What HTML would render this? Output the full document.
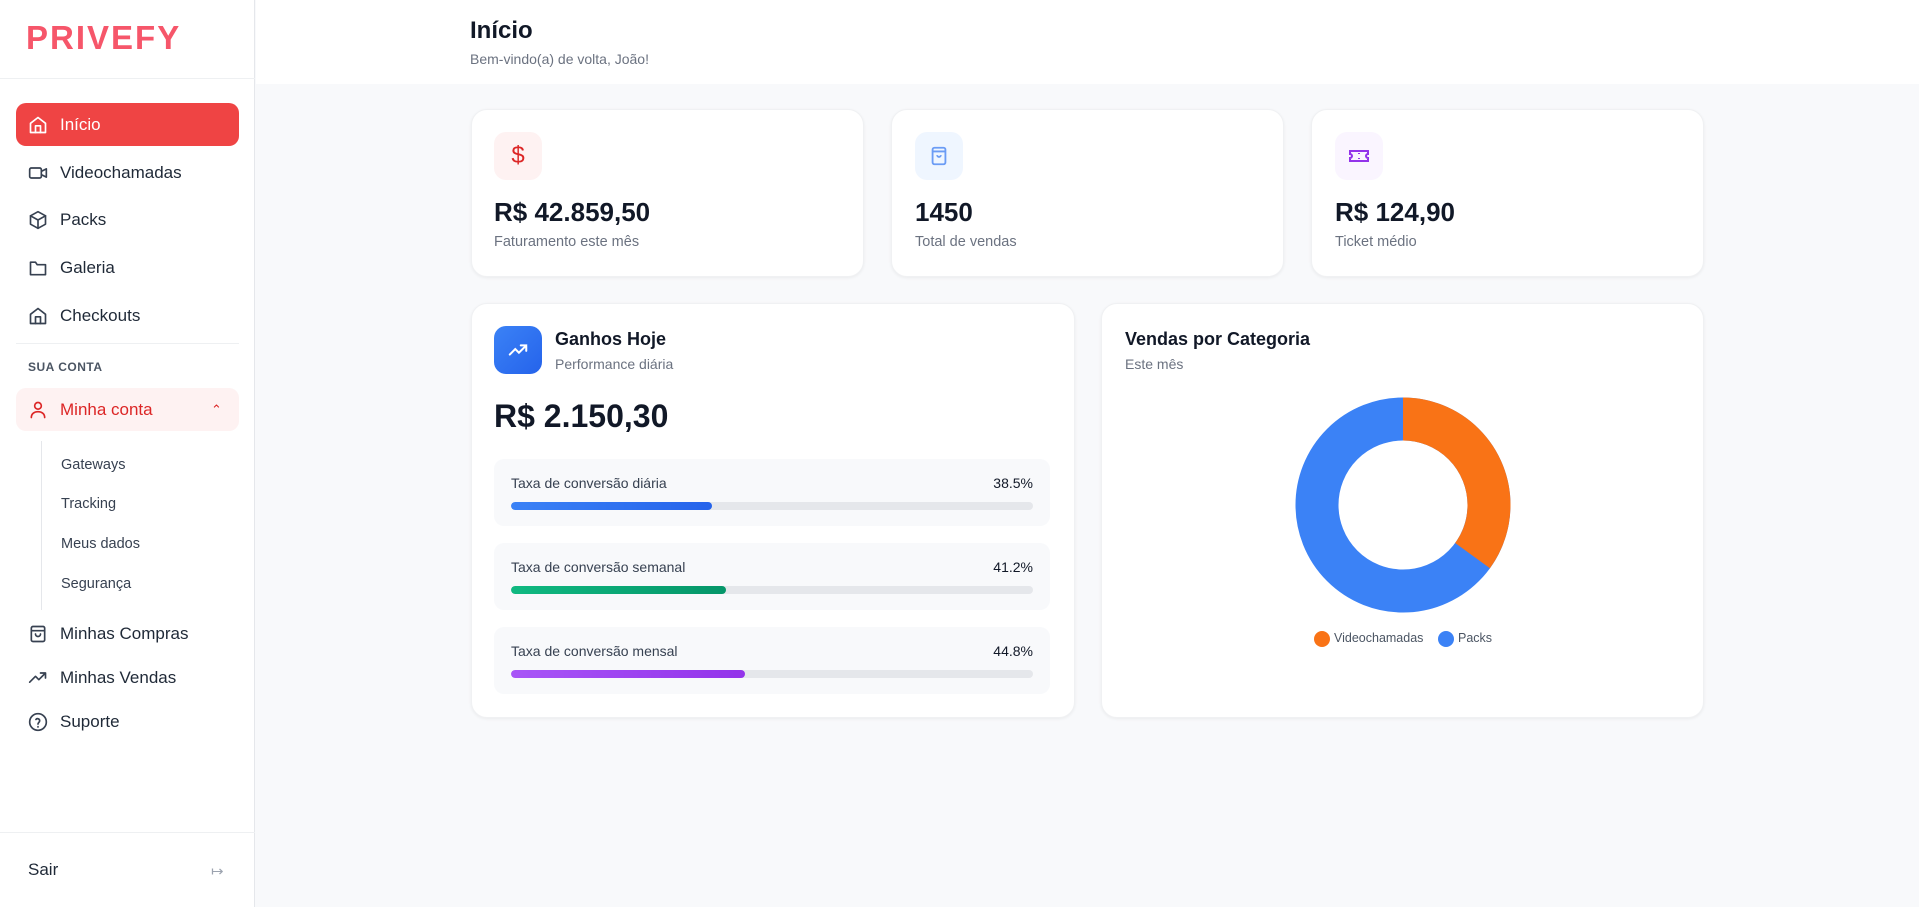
<!DOCTYPE html>
<html><head><meta charset="utf-8"><style>
*{box-sizing:border-box;margin:0;padding:0}
body{width:1919px;height:907px;background:#f8f9fb;font-family:"Liberation Sans",sans-serif;color:#111827;position:relative;overflow:hidden}
.a{position:absolute}
.side{left:0;top:0;width:255px;height:907px;background:#fff;border-right:1px solid #e5e7eb}
.nav{left:28px;font-size:17px;color:#1f2937;display:flex;align-items:center;gap:12px;height:24px}
.nav svg{width:20px;height:20px;fill:none;stroke:#374151;stroke-width:2;stroke-linecap:round;stroke-linejoin:round}
.sub{left:61px;font-size:14.5px;color:#374151}
.card{background:#fff;border-radius:16px;box-shadow:0 1px 3px rgba(0,0,0,.06);border:1px solid #f0f1f3}
.ic{width:48px;height:48px;border-radius:12px;display:flex;align-items:center;justify-content:center}
.val{font-size:26px;font-weight:bold;color:#111827}
.lbl{font-size:14.5px;color:#6b7280}
.pb{left:494px;width:556px;height:67px;background:#f8f9fb;border-radius:10px}
.pb .t{position:absolute;left:17px;top:16px;font-size:14px;color:#374151}
.pb .p{position:absolute;right:17px;top:16px;font-size:14px;color:#111827}
.pb .bar{position:absolute;left:17px;right:17px;top:43px;height:8px;background:#e5e7eb;border-radius:4px;overflow:hidden}
.pb .f{height:8px;border-radius:4px}
</style></head><body>
<div class="a side"></div>
<div class="a" style="left:0;top:78px;width:255px;height:1px;background:#eef0f2"></div>
<div class="a" style="left:26px;top:19px;font-size:33px;font-weight:bold;color:#f6566a;letter-spacing:2px;font-family:'Liberation Sans',sans-serif">PRIVEFY</div>

<div class="a" style="left:16px;top:103px;width:223px;height:43px;background:#ef4444;border-radius:10px"></div>
<div class="a nav" style="top:113px;color:#fff"><svg viewBox="0 0 24 24" style="stroke:#fff"><path d="M3 10l9-7 9 7v11H3z"/><path d="M9 21v-8h6v8"/></svg>Início</div>
<div class="a nav" style="top:161px"><svg viewBox="0 0 24 24"><rect x="2" y="6" width="14" height="12" rx="2"/><path d="M16 10l6-3v10l-6-3"/></svg>Videochamadas</div>
<div class="a nav" style="top:208px"><svg viewBox="0 0 24 24"><path d="M12 2l9 5v10l-9 5-9-5V7z"/><path d="M3 7l9 5 9-5M12 12v10"/></svg>Packs</div>
<div class="a nav" style="top:256px"><svg viewBox="0 0 24 24"><path d="M3 5h6l2 3h10v12H3z"/></svg>Galeria</div>
<div class="a nav" style="top:304px"><svg viewBox="0 0 24 24"><path d="M3 10l9-7 9 7v11H3z"/><path d="M9 21v-8h6v8"/></svg>Checkouts</div>
<div class="a" style="left:16px;top:343px;width:223px;height:1px;background:#eef0f2"></div>
<div class="a" style="left:28px;top:360px;font-size:12px;font-weight:bold;color:#4b5563;letter-spacing:.5px">SUA CONTA</div>
<div class="a" style="left:16px;top:388px;width:223px;height:43px;background:#fef2f2;border-radius:10px"></div>
<div class="a nav" style="top:398px;color:#dc2626"><svg viewBox="0 0 24 24" style="stroke:#dc2626"><circle cx="12" cy="7" r="4"/><path d="M4 21c0-5 4-7 8-7s8 2 8 7"/></svg>Minha conta</div>
<div class="a" style="left:211px;top:402px;font-size:13px;color:#dc2626">&#8963;</div>
<div class="a" style="left:41px;top:441px;width:1px;height:169px;background:#e5e7eb"></div>
<div class="a sub" style="top:457px">Gateways</div>
<div class="a sub" style="top:496px">Tracking</div>
<div class="a sub" style="top:536px">Meus dados</div>
<div class="a sub" style="top:576px">Segurança</div>
<div class="a nav" style="top:622px"><svg viewBox="0 0 24 24"><rect x="4" y="3" width="16" height="18" rx="2"/><path d="M4 8h16M9 12a3 3 0 006 0"/></svg>Minhas Compras</div>
<div class="a nav" style="top:666px"><svg viewBox="0 0 24 24"><path d="M2 17l7-7 4 4 8-8M15 6h6v6"/></svg>Minhas Vendas</div>
<div class="a nav" style="top:710px"><svg viewBox="0 0 24 24"><circle cx="12" cy="12" r="10"/><path d="M9.5 9a2.5 2.5 0 014.5 1.5c0 2-2 2-2 4M12 17.5v.5"/></svg>Suporte</div>
<div class="a" style="left:0;top:832px;width:255px;height:1px;background:#eef0f2"></div>
<div class="a" style="left:28px;top:860px;font-size:17px;color:#1f2937">Sair</div>
<div class="a" style="left:211px;top:862px;font-size:15px;color:#9ca3af">&#8614;</div>

<div class="a" style="left:256px;top:0;width:1663px;height:84px;background:#fff"></div>
<div class="a" style="left:470px;top:17px;font-size:24px;font-weight:bold">Início</div>
<div class="a" style="left:470px;top:51px;font-size:14px;color:#6b7280">Bem-vindo(a) de volta, João!</div>

<div class="a card" style="left:471px;top:109px;width:393px;height:168px"></div>
<div class="a ic" style="left:494px;top:132px;background:#fef2f2;color:#dc2626;font-size:24px">$</div>
<div class="a val" style="left:494px;top:197px">R$ 42.859,50</div>
<div class="a lbl" style="left:494px;top:234px">Faturamento este mês</div>

<div class="a card" style="left:891px;top:109px;width:393px;height:168px"></div>
<div class="a ic" style="left:915px;top:132px;background:#eff6ff"><svg width="22" height="22" viewBox="0 0 24 24" fill="none" stroke="#6b9cf5" stroke-width="2"><rect x="5" y="3" width="14" height="18" rx="2"/><path d="M5 7h14M10 11a2 2 0 004 0"/></svg></div>
<div class="a val" style="left:915px;top:197px">1450</div>
<div class="a lbl" style="left:915px;top:234px">Total de vendas</div>

<div class="a card" style="left:1311px;top:109px;width:393px;height:168px"></div>
<div class="a ic" style="left:1335px;top:132px;background:#faf5ff"><svg width="24" height="24" viewBox="0 0 24 24" fill="none" stroke="#9333ea" stroke-width="2"><path d="M3 7h18v3a2 2 0 000 4v3H3v-3a2 2 0 000-4z"/><path d="M12 9v1M12 14v1"/></svg></div>
<div class="a val" style="left:1335px;top:197px">R$ 124,90</div>
<div class="a lbl" style="left:1335px;top:234px">Ticket médio</div>

<div class="a card" style="left:471px;top:303px;width:604px;height:415px"></div>
<div class="a ic" style="left:494px;top:326px;background:linear-gradient(135deg,#3b82f6,#2563eb)"><svg width="22" height="22" viewBox="0 0 24 24" fill="none" stroke="#fff" stroke-width="2.2" stroke-linecap="round"><path d="M3 17l6-6 4 4 8-8M15 7h6v6"/></svg></div>
<div class="a" style="left:555px;top:329px;font-size:18px;font-weight:bold">Ganhos Hoje</div>
<div class="a lbl" style="left:555px;top:356px;font-size:14px">Performance diária</div>
<div class="a" style="left:494px;top:398px;font-size:32px;font-weight:bold">R$ 2.150,30</div>
<div class="a pb" style="top:459px"><span class="t">Taxa de conversão diária</span><span class="p">38.5%</span><div class="bar"><div class="f" style="width:38.5%;background:linear-gradient(90deg,#3b82f6,#2563eb)"></div></div></div>
<div class="a pb" style="top:543px"><span class="t">Taxa de conversão semanal</span><span class="p">41.2%</span><div class="bar"><div class="f" style="width:41.2%;background:linear-gradient(90deg,#10b981,#059669)"></div></div></div>
<div class="a pb" style="top:627px"><span class="t">Taxa de conversão mensal</span><span class="p">44.8%</span><div class="bar"><div class="f" style="width:44.8%;background:linear-gradient(90deg,#a855f7,#9333ea)"></div></div></div>

<div class="a card" style="left:1101px;top:303px;width:603px;height:415px"></div>
<div class="a" style="left:1125px;top:329px;font-size:18px;font-weight:bold">Vendas por Categoria</div>
<div class="a lbl" style="left:1125px;top:356px;font-size:14px">Este mês</div>
<svg class="a" style="left:1290px;top:392px" width="226" height="226" viewBox="-113 -113 226 226">
<circle r="86" fill="none" stroke="#3b82f6" stroke-width="43"/>
<circle r="86" fill="none" stroke="#f97316" stroke-width="43" stroke-dasharray="189.1 540.4" transform="rotate(-90)"/>
</svg>
<div class="a" style="left:1314px;top:631px;width:16px;height:16px;border-radius:50%;background:#f97316"></div>
<div class="a" style="left:1334px;top:631px;font-size:12.5px;color:#4b5563">Videochamadas</div>
<div class="a" style="left:1438px;top:631px;width:16px;height:16px;border-radius:50%;background:#3b82f6"></div>
<div class="a" style="left:1458px;top:631px;font-size:12.5px;color:#4b5563">Packs</div>
</body></html>
